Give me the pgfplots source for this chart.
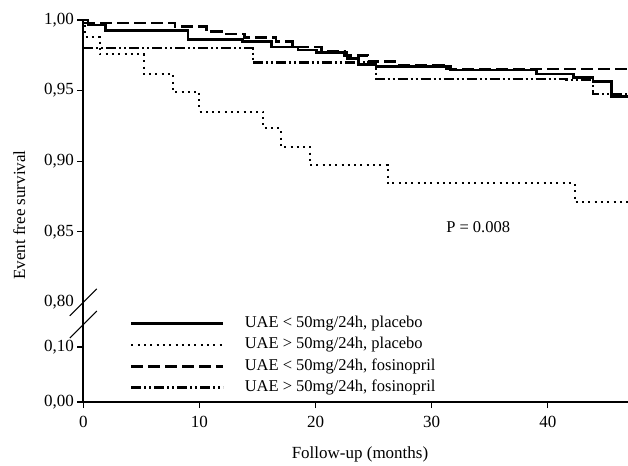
\documentclass[border=0pt]{standalone}
\usepackage{fontspec}
\setmainfont{Liberation Serif}
\usepackage{pgfplots}
\pgfplotsset{compat=1.18}
\usetikzlibrary{calc}
\begin{document}
\begin{tikzpicture}
\begin{axis}[
  name=ax,
  scale only axis,
  width=544.7pt, height=382pt,
  xmin=0, xmax=46.9,
  ymin=0.7294, ymax=1.0,
  enlargelimits=false,
  clip=false,
  axis x line=bottom, axis y line=left,
  axis line style={-, line width=1.8pt},
  tick align=outside,
  major tick length=6pt,
  tick style={line width=1.2pt, black},
  xtick={0,10,20,30,40},
  ytick={0.7294,0.7683,0.85,0.90,0.95,1.00},
  yticklabels={0{,}00,0{,}10,0{,}85,0{,}90,0{,}95,1{,}00},
  extra y ticks={0.80},
  extra y tick labels={0{,}80},
  extra y tick style={major tick length=0pt, yticklabel style={xshift=-6pt}},
  /pgf/number format/assume math mode=true,
  ticklabel style={font=\fontsize{17}{19}\selectfont},
  xticklabel style={yshift=-5pt},
  xlabel={Follow-up (months)},
  ylabel={Event free survival},
  xlabel style={font=\fontsize{17}{19}\selectfont, at={(axis description cs:0.508,-0.136)}, anchor=center},
  ylabel style={font=\fontsize{17}{19}\selectfont, at={(axis description cs:-0.1175,0.4895)}, anchor=center},
  legend style={at={(axis description cs:0.0857,0.2267)}, anchor=north west, draw=none, fill=none,
    inner sep=0pt, row sep=5.3pt,
    font=\fontsize{16.5}{18}\selectfont,
    nodes={inner sep=0pt, text height=12pt, text depth=4pt}},
  legend cell align=left,
  legend image code/.code={\draw[#1] (0pt,0pt) -- (92pt,0pt); \path (112pt,0pt);},
]
\addplot[const plot, black, line width=2.6pt] coordinates {
(0,1.000) (0.4,0.9965) (1.9,0.9924) (9.0,0.9863) (13.7,0.9846) (16.2,0.981)
(18.5,0.9788) (20.1,0.9768) (22.7,0.9729) (23.7,0.9685) (25.2,0.967) (31.6,0.9646)
(39.0,0.9618) (42.2,0.9594) (43.9,0.9563) (45.5,0.9457) (46.9,0.9457)};
\addlegendentry{UAE < 50mg/24h, placebo}
\addplot[const plot, black, line width=2.1pt, dash pattern=on 2pt off 4.3pt] coordinates {
(0,1.000) (0.15,0.9882) (1.4,0.9757) (5.2,0.9618) (7.7,0.9492) (10.0,0.9351)
(15.5,0.9233) (17.0,0.9103) (19.5,0.8973) (26.2,0.8843) (42.3,0.8713) (46.9,0.8713)};
\addlegendentry{UAE > 50mg/24h, placebo}
\addplot[const plot, black, line width=2.6pt, dash pattern=on 12pt off 5pt] coordinates {
(0,0.998) (7.9,0.9953) (10.6,0.9917) (11.9,0.990) (13.9,0.9875) (16.6,0.9846)
(18.0,0.981) (20.5,0.978) (22.5,0.975) (24.5,0.9705) (27.0,0.968) (31.0,0.9653) (46.9,0.9653)};
\addlegendentry{UAE < 50mg/24h, fosinopril}
\addplot[const plot, black, line width=2.3pt, dash pattern=on 10pt off 3pt on 2pt off 3pt on 2pt off 3pt] coordinates {
(0,0.980) (14.6,0.9698) (25.2,0.9582) (41.6,0.9575) (43.9,0.9474) (46.9,0.9474)};
\addlegendentry{UAE > 50mg/24h, fosinopril}
\node[font=\fontsize{16.5}{18}\selectfont] at (axis cs:34.0,0.8534) {P = 0.008};
\fill[white] ($(axis cs:0,0.7837)+(-3pt,0)$) rectangle ($(axis cs:0,0.80)+(3pt,0)$);
\draw[line width=1pt] ($(axis cs:0,0.80)+(-13.5pt,-13.5pt)$) -- ++(27pt,27pt);
\draw[line width=1pt] ($(axis cs:0,0.7843)+(-13.5pt,-13.5pt)$) -- ++(27pt,27pt);
\end{axis}
\pgfresetboundingbox
\path[use as bounding box] ($(ax.south west)+(-83.3pt,-63pt)$) rectangle ($(ax.north east)+(0pt,20pt)$);
\end{tikzpicture}
\end{document}
